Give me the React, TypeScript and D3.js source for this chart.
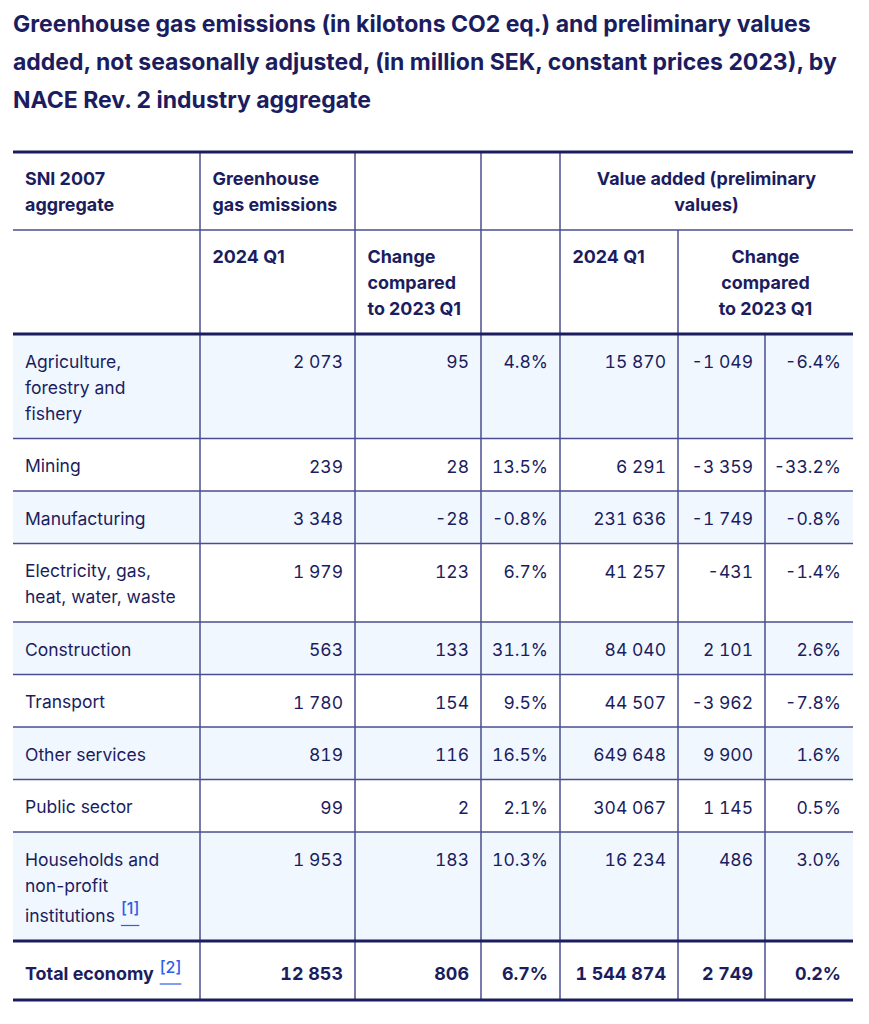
import React, { useEffect, useRef } from "react";
import * as d3 from "d3";

// ---------- data ----------
const titleLines = [
  "Greenhouse gas emissions (in kilotons CO2 eq.) and preliminary values",
  "added, not seasonally adjusted, (in million SEK, constant prices 2023), by",
  "NACE Rev. 2 industry aggregate",
];

const categoryLines: string[][] = [
  ["Agriculture,", "forestry and", "fishery"],
  ["Mining"],
  ["Manufacturing"],
  ["Electricity, gas,", "heat, water, waste"],
  ["Construction"],
  ["Transport"],
  ["Other services"],
  ["Public sector"],
  ["Households and", "non-profit", "institutions"],
];
const categoryNotes = ["", "", "", "", "", "", "", "", "[1]"];

const ghg2024 = [2073, 239, 3348, 1979, 563, 1780, 819, 99, 1953];
const ghgChange = [95, 28, -28, 123, 133, 154, 116, 2, 183];
const ghgChangePct = [4.8, 13.5, -0.8, 6.7, 31.1, 9.5, 16.5, 2.1, 10.3];
const va2024 = [15870, 6291, 231636, 41257, 84040, 44507, 649648, 304067, 16234];
const vaChange = [-1049, -3359, -1749, -431, 2101, -3962, 9900, 1145, 486];
const vaChangePct = [-6.4, -33.2, -0.8, -1.4, 2.6, -7.8, 1.6, 0.5, 3.0];

const totalLabel = "Total economy";
const totalNote = "[2]";
const totalValues = [12853, 806, 6.7, 1544874, 2749, 0.2];

const headerRow1 = {
  aggregate: ["SNI 2007", "aggregate"],
  ghg: ["Greenhouse", "gas emissions"],
  va: ["Value added (preliminary", "values)"],
};
const headerRow2 = {
  ghgQ: ["2024 Q1"],
  ghgChange: ["Change", "compared", "to 2023 Q1"],
  vaQ: ["2024 Q1"],
  vaChange: ["Change", "compared", "to 2023 Q1"],
};

// ---------- style / layout ----------
const W = 869;
const H = 1024;
const NAVY = "#1b1d5e";
const THIN = "#4a4e8e";
const SHADE = "#f0f7ff";
const LINK = "#2f5ee6";
const FONT = "Inter, 'Noto Sans', sans-serif";
const FS = 17.5;
const FSB = 17.9;
const LH = 26;

const colEdges = [13, 200, 355, 481, 560, 678, 765, 853];
const colKeys = ["label", "ghg", "ghgCh", "ghgPct", "va", "vaCh", "vaPct"];

const fmtLocale = d3.formatLocale({
  decimal: ".",
  thousands: "\u00a0",
  grouping: [3],
  currency: ["", ""],
  minus: "-",
});
const fmtInt = fmtLocale.format(",d");
const fmtPct = (v: number) => fmtLocale.format(".1f")(v) + "%";

export default function App() {
  const ref = useRef<SVGSVGElement | null>(null);

  useEffect(() => {
    const svg = d3.select(ref.current);
    svg.selectAll("*").remove();

    const xLeft = d3.scaleOrdinal<string, number>().domain(colKeys).range(colEdges.slice(0, 7));
    const xRight = d3.scaleOrdinal<string, number>().domain(colKeys).range(colEdges.slice(1));

    // title
    titleLines.forEach((t, i) => {
      svg
        .append("text")
        .attr("x", 13)
        .attr("y", 31.5 + i * 38)
        .attr("font-family", FONT)
        .attr("font-size", 23)
        .attr("font-weight", 700)
        .attr("fill", NAVY)
        .text(t);
    });

    // row geometry
    const tableTop = 152;
    const h1Bottom = 230;
    const h2Bottom = 334;
    const rowHeights = categoryLines.map((ls, i) => 52.5 + (ls.length - 1) * LH + (categoryNotes[i] ? 4.5 : 0));
    const rowTops: number[] = [];
    let y = h2Bottom;
    rowHeights.forEach((h) => {
      rowTops.push(y);
      y += h;
    });
    const totalTop = y;
    const totalBottom = totalTop + 59;

    // shading
    categoryLines.forEach((_, i) => {
      if (i % 2 === 0) {
        svg
          .append("rect")
          .attr("x", colEdges[0])
          .attr("y", rowTops[i])
          .attr("width", colEdges[7] - colEdges[0])
          .attr("height", rowHeights[i])
          .attr("fill", SHADE);
      }
    });

    const txt = (
      x: number,
      yy: number,
      s: string,
      anchor: string,
      weight: number,
      num = false
    ) =>
      svg
        .append("text")
        .attr("x", x)
        .attr("y", yy)
        .attr("text-anchor", anchor)
        .attr("font-family", FONT)
        .attr("font-size", weight >= 700 ? FSB : FS)
        .attr("font-weight", weight)
        .attr("fill", NAVY)
        .style("font-feature-settings", num ? "'tnum' 1" : "normal")
        .text(s);

    const padL = 12.5;
    const padR = 12;

    // header row 1
    headerRow1.aggregate.forEach((s, i) => txt(xLeft("label") + padL - 0.5, tableTop + 33 + i * LH, s, "start", 700));
    headerRow1.ghg.forEach((s, i) => txt(xLeft("ghg") + padL, tableTop + 33 + i * LH, s, "start", 700));
    headerRow1.va.forEach((s, i) =>
      txt((xLeft("va") + xRight("vaPct")) / 2, tableTop + 33 + i * LH, s, "middle", 700)
    );
    // header row 2
    headerRow2.ghgQ.forEach((s, i) => txt(xLeft("ghg") + padL, h1Bottom + 33 + i * LH, s, "start", 700));
    headerRow2.ghgChange.forEach((s, i) => txt(xLeft("ghgCh") + padL, h1Bottom + 33 + i * LH, s, "start", 700));
    headerRow2.vaQ.forEach((s, i) => txt(xLeft("va") + padL, h1Bottom + 33 + i * LH, s, "start", 700));
    headerRow2.vaChange.forEach((s, i) =>
      txt((xLeft("vaCh") + xRight("vaPct")) / 2, h1Bottom + 33 + i * LH, s, "middle", 700)
    );

    const addNote = (textSel: any, note: string, baseY: number) => {
      const node = textSel.node() as SVGTextElement;
      const x0 = +textSel.attr("x") + node.getComputedTextLength() + 6;
      const n = svg
        .append("text")
        .attr("x", x0)
        .attr("y", baseY - 7.5)
        .attr("font-family", FONT)
        .attr("font-size", 16)
        .attr("font-weight", 500)
        .attr("fill", LINK)
        .text(note);
      const w = (n.node() as SVGTextElement).getComputedTextLength();
      svg
        .append("line")
        .attr("x1", x0)
        .attr("x2", x0 + w)
        .attr("y1", baseY + 4)
        .attr("y2", baseY + 4)
        .attr("stroke", LINK)
        .attr("stroke-width", 1.2);
    };

    // data rows
    categoryLines.forEach((lines, i) => {
      const top = rowTops[i];
      let last: any = null;
      let lastY = 0;
      lines.forEach((s, j) => {
        const extra = categoryNotes[i] && j === lines.length - 1 ? 4 : 0;
        lastY = top + 33.5 + j * LH + extra;
        last = txt(xLeft("label") + padL - 0.5, lastY, s, "start", 400);
      });
      if (categoryNotes[i]) addNote(last, categoryNotes[i], lastY);
      const by = top + 34;
      txt(xRight("ghg") - padR, by, fmtInt(ghg2024[i]), "end", 400, true);
      txt(xRight("ghgCh") - padR, by, fmtInt(ghgChange[i]), "end", 400, true);
      txt(xRight("ghgPct") - padR, by, fmtPct(ghgChangePct[i]), "end", 400, true);
      txt(xRight("va") - padR, by, fmtInt(va2024[i]), "end", 400, true);
      txt(xRight("vaCh") - padR, by, fmtInt(vaChange[i]), "end", 400, true);
      txt(xRight("vaPct") - padR, by, fmtPct(vaChangePct[i]), "end", 400, true);
    });

    // total row
    const ty = totalTop + 39;
    const tl = txt(xLeft("label") + padL - 0.5, ty, totalLabel, "start", 700);
    addNote(tl, totalNote, ty);
    const fmts = [fmtInt, fmtInt, fmtPct, fmtInt, fmtInt, fmtPct];
    totalValues.forEach((v, k) => {
      txt(xRight(colKeys[k + 1]) - padR, ty, fmts[k](v), "end", 700, true);
    });

    const hline = (yy: number, w: number, c: string) =>
      svg
        .append("line")
        .attr("x1", colEdges[0])
        .attr("x2", colEdges[7])
        .attr("y1", yy)
        .attr("y2", yy)
        .attr("stroke", c)
        .attr("stroke-width", w);

    const vline = (x: number, y1: number, y2: number) =>
      svg
        .append("line")
        .attr("x1", x)
        .attr("x2", x)
        .attr("y1", y1)
        .attr("y2", y2)
        .attr("stroke", THIN)
        .attr("stroke-width", 1.5);

    [1, 2, 3, 4].forEach((k) => vline(colEdges[k], tableTop, totalBottom));
    vline(colEdges[5], h1Bottom, totalBottom);
    vline(colEdges[6], h2Bottom, totalBottom);

    hline(h1Bottom, 1.5, THIN);
    rowTops.slice(1).forEach((t) => hline(t, 1.5, THIN));
    hline(tableTop, 3, NAVY);
    hline(h2Bottom, 3, NAVY);
    hline(totalTop, 3, NAVY);
    hline(totalBottom, 3, NAVY);
  }, []);

  return (
    <svg
      ref={ref}
      width={W}
      height={H}
      style={{ position: "absolute", left: 0, top: 0, background: "#ffffff" }}
    />
  );
}
